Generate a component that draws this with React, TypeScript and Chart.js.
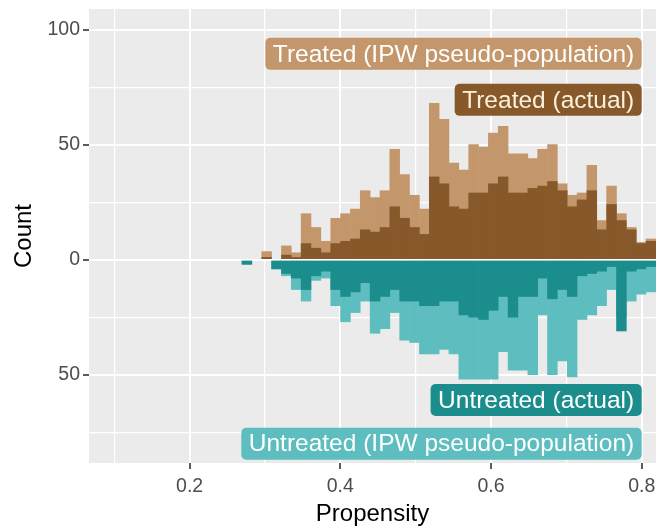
import React, { useEffect, useRef } from "react";
import { Chart, registerables } from "chart.js";

Chart.register(...registerables);

// Propensity bin centres (bin width ≈ 0.0131)
const propensityBins = [
  0.2760, 0.2891, 0.3022, 0.3153, 0.3284, 0.3414, 0.3545, 0.3676, 0.3807, 0.3938,
  0.4068, 0.4199, 0.4330, 0.4461, 0.4592, 0.4722, 0.4853, 0.4984, 0.5115, 0.5246,
  0.5376, 0.5507, 0.5638, 0.5769, 0.5900, 0.6030, 0.6161, 0.6292, 0.6423, 0.6554,
  0.6684, 0.6815, 0.6946, 0.7077, 0.7208, 0.7338, 0.7469, 0.7600, 0.7731, 0.7862,
  0.7992, 0.8123,
];

// Counts per bin (treated drawn upward, untreated downward)
const treatedActual = [
  0, 0, 1, 0, 2, 1, 7, 5, 3, 7,
  8, 9, 13, 12, 14, 23, 18, 14, 11, 36,
  33, 23, 22, 29, 29, 33, 36, 29, 29, 31,
  32, 34, 30, 23, 26, 30, 13, 24, 17, 13,
  7, 8,
];
const treatedIPW = [
  0, 0, 3.5, 0, 6, 3, 20, 14, 8, 18,
  20, 22, 30, 27, 30, 48, 37, 28, 22, 68,
  61, 42, 39, 50, 49, 55, 58, 46, 46, 44,
  48, 50, 33, 28, 29, 41, 17, 32, 20, 14,
  7.5, 9,
];
const untreatedActual = [
  2, 0, 0, 4, 6, 8, 13, 7, 5, 13,
  16, 14, 10, 18, 16, 13, 18, 18, 20, 20,
  18, 18, 24, 25, 26, 22, 16, 25, 16, 16,
  8, 17, 13, 16, 7, 6, 5, 3, 31, 5,
  4, 3,
];
const untreatedIPW = [
  2, 0, 0, 4, 7, 13, 18, 9, 8, 20,
  27, 23, 18, 32, 30, 23, 35, 36, 41, 41,
  39, 41, 52, 52, 52, 52, 40, 48, 48, 50,
  24, 50, 44, 51, 26, 24, 20, 13, 25, 18,
  15, 14,
];

// Axis breaks
const xBreaks = [0.1, 0.2, 0.3, 0.4, 0.5, 0.6, 0.7, 0.8];
const xMajor = [0.2, 0.4, 0.6, 0.8];
const yBreaks = [-75, -50, -25, 0, 25, 50, 75, 100];
const yMajor = [-50, 0, 50, 100];

const X_MIN = 0.0664;
const X_MAX = 0.819;
const Y_MIN = -88.4;
const Y_MAX = 109.0;

const DARK_BROWN = "#87592A";
const LIGHT_BROWN = "#C3976B";
const DARK_TEAL = "#1C8D8D";
const LIGHT_TEAL = "#5EBEBF";
const PANEL = "#EBEBEB";
const FONT = "'Liberation Sans', Arial, sans-serif";

// Group labels placed in data coordinates (right-aligned at x)
const groupLabels = [
  { text: "Treated (IPW pseudo-population)", x: 0.8, y: 89.5, fill: LIGHT_BROWN, color: "#FFFFFF" },
  { text: "Treated (actual)", x: 0.8, y: 69.5, fill: DARK_BROWN, color: "#FBF0DC" },
  { text: "Untreated (actual)", x: 0.8, y: -61, fill: DARK_TEAL, color: "#FFFFFF" },
  { text: "Untreated (IPW pseudo-population)", x: 0.8, y: -80, fill: LIGHT_TEAL, color: "#FFFFFF" },
];

const isIn = (list: number[], v: number) => list.some((m) => Math.abs(m - v) < 1e-9);

const toPoints = (vals: number[], sign: number) =>
  propensityBins.map((x, i) => ({ x, y: vals[i] ? sign * vals[i] : null }));

const panelPlugin = {
  id: "panelDecor",
  beforeDraw(chart: any) {
    const { ctx, chartArea } = chart;
    ctx.save();
    ctx.fillStyle = PANEL;
    ctx.fillRect(chartArea.left, chartArea.top, chartArea.right - chartArea.left, chartArea.bottom - chartArea.top);
    ctx.restore();
  },
  afterDatasetsDraw(chart: any) {
    const { ctx, chartArea, scales } = chart;
    const y0 = scales.y.getPixelForValue(0);
    ctx.save();
    ctx.beginPath();
    ctx.rect(chartArea.left, chartArea.top, chartArea.right - chartArea.left, chartArea.bottom - chartArea.top);
    ctx.clip();
    ctx.strokeStyle = "#FFFFFF";
    ctx.lineWidth = 1.6;
    ctx.beginPath();
    ctx.moveTo(chartArea.left, y0);
    ctx.lineTo(chartArea.right, y0);
    ctx.stroke();

    ctx.font = `24.5px ${FONT}`;
    ctx.textBaseline = "middle";
    ctx.textAlign = "left";
    const padX = 7.5;
    const boxH = 32;
    for (const lab of groupLabels) {
      const right = scales.x.getPixelForValue(lab.x);
      const cy = scales.y.getPixelForValue(lab.y);
      const w = ctx.measureText(lab.text).width + padX * 2;
      const left = right - w;
      ctx.fillStyle = lab.fill;
      ctx.beginPath();
      ctx.roundRect(left, cy - boxH / 2, w, boxH, 5);
      ctx.fill();
      ctx.fillStyle = lab.color;
      ctx.fillText(lab.text, left + padX, cy + 1);
    }
    ctx.restore();
  },
};

export default function App() {
  const canvasRef = useRef<HTMLCanvasElement | null>(null);

  useEffect(() => {
    const canvas = canvasRef.current;
    if (!canvas) return;

    const gridWidth = (list: number[]) => (ctx: any) =>
      ctx.tick && isIn(list, ctx.tick.value) ? 2 : 1.2;
    const tickColor = (list: number[]) => (ctx: any) =>
      ctx.tick && isIn(list, ctx.tick.value) ? "#333333" : "rgba(0,0,0,0)";

    const chart = new Chart(canvas, {
      type: "bar",
      data: {
        datasets: [
          { label: "Treated (actual)", data: toPoints(treatedActual, 1), backgroundColor: DARK_BROWN, order: 1 },
          { label: "Untreated (actual)", data: toPoints(untreatedActual, -1), backgroundColor: DARK_TEAL, order: 1 },
          { label: "Treated (IPW pseudo-population)", data: toPoints(treatedIPW, 1), backgroundColor: LIGHT_BROWN, order: 2 },
          { label: "Untreated (IPW pseudo-population)", data: toPoints(untreatedIPW, -1), backgroundColor: LIGHT_TEAL, order: 2 },
        ] as any,
      },
      options: {
        animation: false,
        responsive: false,
        devicePixelRatio: 1,
        layout: { padding: { top: 9, right: 0, bottom: 0, left: 0 } },
        datasets: {
          bar: { barPercentage: 1, categoryPercentage: 1, grouped: false, borderWidth: 0 },
        } as any,
        plugins: {
          legend: { display: false },
          tooltip: { enabled: false },
        },
        scales: {
          x: {
            type: "linear",
            min: X_MIN,
            max: X_MAX,
            offset: false,
            afterBuildTicks: (s: any) => {
              s.ticks = xBreaks.map((v) => ({ value: v }));
            },
            afterFit: (s: any) => {
              s.height = 68;
              s.paddingLeft = 0;
              s.paddingRight = 0;
            },
            ticks: {
              autoSkip: false,
              maxRotation: 0,
              padding: 6,
              color: "#4D4D4D",
              font: { family: FONT, size: 19.5 },
              callback: (v: any) => (isIn(xMajor, Number(v)) ? Number(v).toFixed(1) : ""),
            },
            grid: {
              offset: false,
              color: "#FFFFFF",
              lineWidth: gridWidth(xMajor),
              tickColor: tickColor(xMajor),
              tickLength: 6,
              tickWidth: 1.6,
            },
            border: { display: false },
            title: {
              display: true,
              text: "Propensity",
              color: "#000000",
              font: { family: FONT, size: 24 },
              padding: { top: 0, bottom: 2 },
            },
          },
          y: {
            type: "linear",
            min: Y_MIN,
            max: Y_MAX,
            afterBuildTicks: (s: any) => {
              s.ticks = yBreaks.map((v) => ({ value: v }));
            },
            afterFit: (s: any) => {
              s.width = 89;
              s.paddingTop = 0;
              s.paddingBottom = 0;
            },
            ticks: {
              autoSkip: false,
              padding: 3,
              color: "#4D4D4D",
              font: { family: FONT, size: 19.5 },
              callback: (v: any) => (isIn(yMajor, Number(v)) ? String(Math.abs(Number(v))) : ""),
            },
            grid: {
              color: "#FFFFFF",
              lineWidth: gridWidth(yMajor),
              tickColor: tickColor(yMajor),
              tickLength: 6,
              tickWidth: 1.6,
            },
            border: { display: false },
            title: {
              display: true,
              text: "Count",
              color: "#000000",
              font: { family: FONT, size: 24 },
              padding: { top: 10, bottom: 0 },
            },
          },
        },
      } as any,
      plugins: [panelPlugin],
    });

    return () => chart.destroy();
  }, []);

  return (
    <div style={{ position: "fixed", left: 0, top: 0, width: 656, height: 531, background: "#FFFFFF" }}>
      <canvas ref={canvasRef} width={656} height={531} style={{ display: "block" }} />
    </div>
  );
}
